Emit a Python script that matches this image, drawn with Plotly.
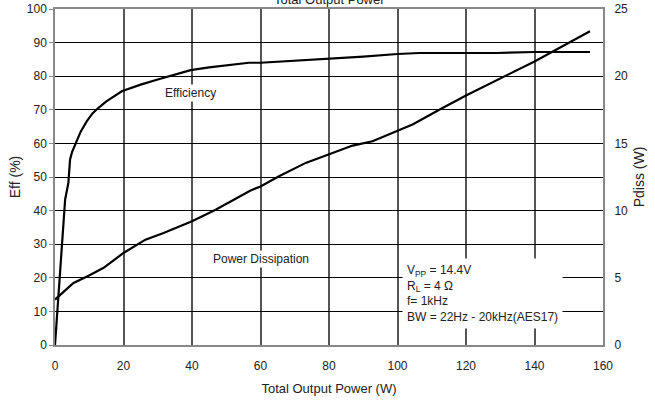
import plotly.graph_objects as go

# Efficiency curve (left axis, %)
eff_power = [0, 1.0, 2.0, 2.96, 3.9, 4.4, 5.0, 5.9, 7.5, 9.3, 11, 12.7, 15, 19.5, 25, 30, 35,
             39.6, 45, 50, 56.6, 60, 70, 80, 90, 100, 106.4, 112, 120, 128.9, 140, 150, 156.2]
eff_pct = [0, 15, 30, 43.3, 48.2, 55.2, 57.5, 59.6, 63.5, 66.6, 69, 70.6, 72.5, 75.5, 77.5, 79.0, 80.5,
           81.8, 82.6, 83.2, 84.0, 84.0, 84.6, 85.1, 85.8, 86.6, 86.9, 86.9, 86.9, 86.9, 87.2, 87.2, 87.2]

# Power dissipation curve (right axis, W)
pd_power = [0, 5.4, 9.8, 14.2, 20, 26.4, 31.7, 40, 46.9, 52.2, 57.1, 60, 65.4, 73.2, 80, 86.9,
            92.7, 100, 104.4, 112.2, 120, 140, 156.2]
pd_watts = [3.38, 4.62, 5.16, 5.74, 6.85, 7.84, 8.34, 9.2, 10.07, 10.82, 11.5, 11.8, 12.55, 13.55,
            14.17, 14.84, 15.16, 15.9, 16.4, 17.5, 18.56, 21.1, 23.34]

x_ticks = [0, 20, 40, 60, 80, 100, 120, 140, 160]
eff_ticks = [0, 10, 20, 30, 40, 50, 60, 70, 80, 90, 100]
pd_ticks = [0, 5, 10, 15, 20, 25]

FONT = "Liberation Sans, Arial, sans-serif"

fig = go.Figure()
fig.add_trace(go.Scatter(x=eff_power, y=eff_pct, mode="lines",
                         line=dict(color="black", width=2.2), yaxis="y", showlegend=False))
fig.add_trace(go.Scatter(x=pd_power, y=pd_watts, mode="lines",
                         line=dict(color="black", width=2.2), yaxis="y2", showlegend=False))

fig.update_layout(
    width=655, height=400,
    margin=dict(l=55, r=52, t=9, b=55),
    paper_bgcolor="white", plot_bgcolor="white",
    font=dict(family=FONT, size=12, color="#222"),
    xaxis=dict(range=[0, 160], tickvals=x_ticks, showgrid=True, gridcolor="#555", gridwidth=1.5,
               showline=True, linecolor="#888", linewidth=1.5, mirror=True,
               ticks="outside", ticklen=0, ticklabelstandoff=9, automargin=False,
               title=dict(text="Total Output Power (W)", font=dict(size=13), standoff=12),
               zeroline=False),
    yaxis=dict(range=[0, 100], tickvals=eff_ticks, showgrid=True, gridcolor="#000", gridwidth=1.2,
               showline=True, linecolor="#888", linewidth=1.5, mirror=True,
               ticks="outside", ticklen=4, tickcolor="#888", automargin=False,
               title=dict(text="Eff (%)", font=dict(size=14), standoff=3),
               zeroline=False),
    yaxis2=dict(range=[0, 25], tickvals=pd_ticks, overlaying="y", side="right", showgrid=False,
                ticks="outside", ticklen=0, ticklabelstandoff=8, automargin=False,
                title=dict(text="Pdiss (W)", font=dict(size=14), standoff=7),
                zeroline=False),
)

fig.add_annotation(text="Total Output Power", xref="paper", yref="paper", x=0.5, y=1,
                   yanchor="middle", yshift=10, showarrow=False, font=dict(size=13, color="#222"))
fig.add_annotation(text="Efficiency", x=39.6, y=75.1, xref="x", yref="y", showarrow=False,
                   bgcolor="white", font=dict(size=12, color="#222"), borderpad=1)
fig.add_annotation(text="Power Dissipation", x=60.1, y=25.7, xref="x", yref="y", showarrow=False,
                   bgcolor="white", font=dict(size=12, color="#222"), borderpad=1)
fig.add_annotation(text="V<sub>PP</sub> = 14.4V<br>R<sub>L</sub> = 4 Ω<br>f= 1kHz<br>BW = 22Hz - 20kHz(AES17)",
                   x=101.2, y=15.3, xref="x", yref="y", xanchor="left", yanchor="middle",
                   align="left", showarrow=False, bgcolor="white", borderpad=4,
                   font=dict(size=12, color="#222"))

fig.write_html("out.html", config={"displayModeBar": False},
               post_script="document.body.style.margin='0';")
